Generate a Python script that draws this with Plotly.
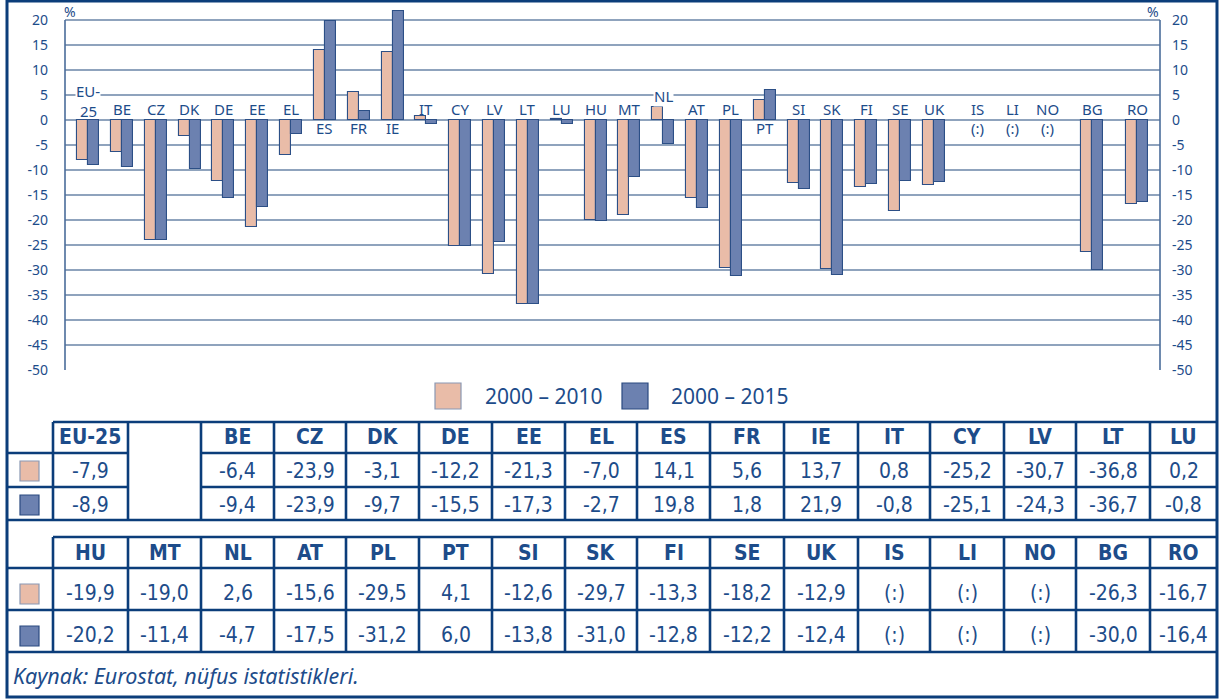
import plotly.graph_objects as go

# ---------------- data ----------------
COUNTRIES = ["EU-25", "BE", "CZ", "DK", "DE", "EE", "EL", "ES", "FR", "IE", "IT",
             "CY", "LV", "LT", "LU", "HU", "MT", "NL", "AT", "PL", "PT", "SI",
             "SK", "FI", "SE", "UK", "IS", "LI", "NO", "BG", "RO"]
SERIES_NAMES = ["2000 – 2010", "2000 – 2015"]
CHANGE_2000_2010 = [-7.9, -6.4, -23.9, -3.1, -12.2, -21.3, -7.0, 14.1, 5.6, 13.7, 0.8,
                    -25.2, -30.7, -36.8, 0.2, -19.9, -19.0, 2.6, -15.6, -29.5, 4.1, -12.6,
                    -29.7, -13.3, -18.2, -12.9, None, None, None, -26.3, -16.7]
CHANGE_2000_2015 = [-8.9, -9.4, -23.9, -9.7, -15.5, -17.3, -2.7, 19.8, 1.8, 21.9, -0.8,
                    -25.1, -24.3, -36.7, -0.8, -20.2, -11.4, -4.7, -17.5, -31.2, 6.0, -13.8,
                    -31.0, -12.8, -12.2, -12.4, None, None, None, -30.0, -16.4]
TABLE_TOP = ["EU-25", "", "BE", "CZ", "DK", "DE", "EE", "EL", "ES", "FR", "IE", "IT",
             "CY", "LV", "LT", "LU"]
TABLE_BOTTOM = ["HU", "MT", "NL", "AT", "PL", "PT", "SI", "SK", "FI", "SE", "UK", "IS",
                "LI", "NO", "BG", "RO"]
Y_TICKS = [20, 15, 10, 5, 0, -5, -10, -15, -20, -25, -30, -35, -40, -45, -50]
Y_TICK_LABELS = ["20", "15", "10", "5", "0", "-5", "-10", "-15", "-20", "-25", "-30",
                 "-35", "-40", "-45", "-50"]
UNIT = "%"
MISSING = "(:)"
SOURCE = "Kaynak: Eurostat, nüfus istatistikleri."

# ---------------- layout constants ----------------
W, H = 1220, 700
# slot positions of the categories along the x axis (gaps before IS and BG)
SLOTS = list(range(26)) + [26.3, 27.33, 28.34, 29.67, 31.0]
BAR_W = 0.325

PINK = "#e9bca8"
BLUE = "#6c81b0"
BAR_EDGE = "#2c4f86"
TEXT = "#1d4c8a"
GRID = "#8fa3bd"
AXIS = "#4a6c9a"
FRAME = "#0b3d7a"
FONT = "Noto Sans, Open Sans, sans-serif"
NARROW = "Liberation Sans Narrow, DejaVu Sans Condensed, sans-serif"
LBL = dict(family=FONT, size=15, color=TEXT)


def px(x):
    return x / W


def py(y):
    return 1 - y / H


def fmt(v):
    if v is None:
        return MISSING
    return f"{v:.1f}".replace(".", ",")


fig = go.Figure()
fig.add_trace(go.Bar(x=SLOTS, y=CHANGE_2000_2010, name=SERIES_NAMES[0], width=BAR_W,
                     offset=-BAR_W, marker=dict(color=PINK, line=dict(color=BAR_EDGE, width=1.1)),
                     showlegend=False, hoverinfo="skip"))
fig.add_trace(go.Bar(x=SLOTS, y=CHANGE_2000_2015, name=SERIES_NAMES[1], width=BAR_W,
                     offset=0, marker=dict(color=BLUE, line=dict(color=BAR_EDGE, width=1.1)),
                     showlegend=False, hoverinfo="skip"))
# right-hand axis carrier
fig.add_trace(go.Scatter(x=[SLOTS[0]], y=[0], yaxis="y2", mode="markers",
                         marker=dict(opacity=0), showlegend=False, hoverinfo="skip"))

shapes = []
annotations = []

# vertical axis lines (from -50 to 20)
for xd in (0, 1):
    shapes.append(dict(type="line", xref="x domain", yref="y", x0=xd, x1=xd,
                       y0=Y_TICKS[-1], y1=Y_TICKS[0], line=dict(color=AXIS, width=1.6)))

# unit labels
for ux in (70, 1153):
    annotations.append(dict(text=UNIT, xref="paper", yref="paper", x=px(ux), y=py(12),
                            xanchor="center", yanchor="middle", showarrow=False,
                            font=dict(family=FONT, size=14, color=TEXT)))

# category labels near the zero line
for i, c in enumerate(COUNTRIES):
    a, b = CHANGE_2000_2010[i], CHANGE_2000_2015[i]
    vals = [v for v in (a, b) if v is not None]
    parts = [c[:3], c[3:]] if c == "EU-25" else [c]
    if vals and min(vals) >= 0:
        annotations.append(dict(text=c, x=SLOTS[i], y=0.7, xref="x", yref="y",
                                yanchor="top", showarrow=False, borderpad=0, font=LBL))
        continue
    top = max([0] + vals)
    y0 = top + 0.1 if top > 1 else (-0.4 if len(parts) > 1 else 0.0)
    for n, part in enumerate(reversed(parts)):
        ann = dict(text=part, x=SLOTS[i], y=y0 + n * 4.1, xref="x", yref="y",
                   yanchor="bottom", showarrow=False, borderpad=0, font=LBL)
        if c in ("EU-25", "NL") and (n > 0 or c == "NL"):
            ann["bgcolor"] = "white"
        annotations.append(ann)
    if not vals:
        annotations.append(dict(text=MISSING, x=SLOTS[i], y=0.7, xref="x", yref="y",
                                yanchor="top", showarrow=False, borderpad=0, font=LBL))

# legend (custom)
for (x0, x1), col, edge, name, tx in (((435, 461), PINK, "#8a98b3", SERIES_NAMES[0], 483),
                                      ((622, 648), BLUE, "#2a4a80", SERIES_NAMES[1], 669)):
    shapes.append(dict(type="rect", xref="paper", yref="paper", x0=px(x0), x1=px(x1),
                       y0=py(409), y1=py(383), fillcolor=col, line=dict(color=edge, width=1.2)))
    annotations.append(dict(text=name, xref="paper", yref="paper", x=px(tx), y=py(396),
                            xanchor="left", yanchor="middle", showarrow=False,
                            font=dict(family=FONT, size=21, color=TEXT)))

# ---------------- table ----------------
EDGES = [53, 128, 201, 274, 346, 419, 492, 565, 637, 710, 784, 858, 930, 1004, 1076, 1150, 1217]
LEFT, RIGHT, TOP, BOTTOM = 7, 1217, 1, 697
LW = 2.6


def hline(y, x0, x1):
    shapes.append(dict(type="line", xref="paper", yref="paper", x0=px(x0), x1=px(x1),
                       y0=py(y), y1=py(y), line=dict(color=FRAME, width=LW)))


def vline(x, y0, y1):
    shapes.append(dict(type="line", xref="paper", yref="paper", x0=px(x), x1=px(x),
                       y0=py(y0), y1=py(y1), line=dict(color=FRAME, width=LW)))


def cell_text(text, xc, yc, bold=False):
    annotations.append(dict(text=f"<b>{text}</b>" if bold else text, xref="paper", yref="paper",
                            x=px(xc), y=py(yc), xanchor="center", yanchor="middle",
                            showarrow=False, font=dict(family=NARROW, size=21, color=TEXT)))


def swatch(yc, col, edge):
    shapes.append(dict(type="rect", xref="paper", yref="paper", x0=px(20), x1=px(39),
                       y0=py(yc + 10), y1=py(yc - 10), fillcolor=col,
                       line=dict(color=edge, width=1.2)))


# top block
hline(422, EDGES[0], RIGHT)
hline(453, LEFT, EDGES[1]); hline(453, EDGES[2], RIGHT)
hline(487, LEFT, EDGES[1]); hline(487, EDGES[2], RIGHT)
hline(520, LEFT, RIGHT)
for x in EDGES[:-1]:
    vline(x, 422, 520)
# bottom block
hline(537, EDGES[0], RIGHT)
hline(568, LEFT, RIGHT)
hline(610, LEFT, RIGHT)
hline(652, LEFT, RIGHT)
for x in EDGES[:-1]:
    vline(x, 537, 652)

swatch(471, PINK, "#8a98b3")
swatch(505, BLUE, "#2a4a80")
swatch(594, PINK, "#8a98b3")
swatch(636, BLUE, "#2a4a80")

for j, c in enumerate(TABLE_TOP):
    xc = (EDGES[j] + EDGES[j + 1]) / 2
    if not c:
        continue
    k = COUNTRIES.index(c)
    cell_text(c, xc, 437, bold=True)
    cell_text(fmt(CHANGE_2000_2010[k]), xc, 471)
    cell_text(fmt(CHANGE_2000_2015[k]), xc, 505)

for j, c in enumerate(TABLE_BOTTOM):
    xc = (EDGES[j] + EDGES[j + 1]) / 2
    k = COUNTRIES.index(c)
    cell_text(c, xc, 553, bold=True)
    cell_text(fmt(CHANGE_2000_2010[k]), xc, 593)
    cell_text(fmt(CHANGE_2000_2015[k]), xc, 635)

annotations.append(dict(text=f"<i>{SOURCE}</i>", xref="paper", yref="paper", x=px(11),
                        y=py(675), xanchor="left", yanchor="middle", showarrow=False,
                        font=dict(family=FONT, size=21.5, color=TEXT)))

# outer frame
shapes.append(dict(type="rect", xref="paper", yref="paper", x0=px(LEFT), x1=px(RIGHT),
                   y0=py(BOTTOM), y1=py(TOP), line=dict(color=FRAME, width=3)))

XMIN = (65 - 88) / 33.84
XMAX = (1160 - 88) / 33.84
YAX = dict(range=[-50, 24], tickvals=Y_TICKS, ticktext=Y_TICK_LABELS,
           gridcolor=GRID, gridwidth=2, zeroline=False, showline=False,
           tickfont=dict(family=FONT, size=14, color=TEXT), ticks="",
           domain=[py(370), py(0)], fixedrange=True)

fig.update_layout(
    width=W, height=H, autosize=False, margin=dict(l=0, r=0, t=0, b=0, autoexpand=False),
    paper_bgcolor="white", plot_bgcolor="white",
    barmode="overlay", bargap=0,
    xaxis=dict(range=[XMIN, XMAX], domain=[px(65), px(1160)], showgrid=False,
               zeroline=False, showticklabels=False, ticks="", showline=False,
               fixedrange=True),
    yaxis=dict(**YAX, showgrid=True, side="left", ticklabelstandoff=16),
    yaxis2=dict(**YAX, showgrid=False, overlaying="y", side="right", ticklabelstandoff=11),
    shapes=shapes, annotations=annotations, showlegend=False,
)

CSS_FIX = ("var s=document.createElement('style');"
           "s.innerHTML='html,body{margin:0;padding:0;overflow:hidden;}';"
           "document.head.appendChild(s);")
fig.write_html("out.html", config={"displayModeBar": False, "responsive": False},
               post_script=CSS_FIX)
